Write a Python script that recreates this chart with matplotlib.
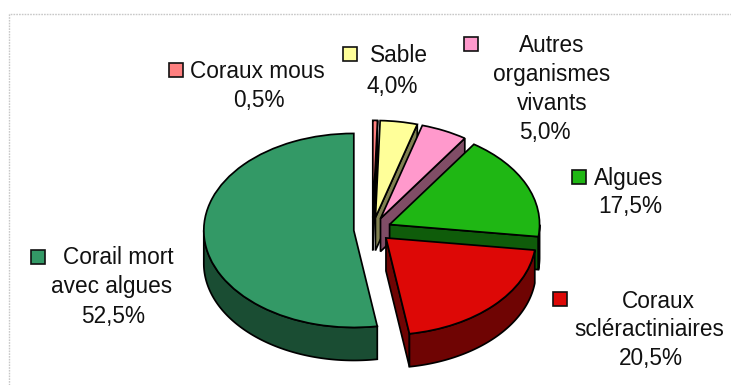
import numpy as np
import matplotlib
matplotlib.use('Agg')
import matplotlib.pyplot as plt
from matplotlib.patches import Rectangle

plt.rcParams['font.family'] = ['Liberation Sans', 'DejaVu Sans']

# valeurs
categories = ["Coraux mous", "Sable", "Autres organismes vivants", "Algues",
              "Coraux scléractiniaires", "Corail mort avec algues"]
values = [0.5, 4.0, 5.0, 17.5, 20.5, 52.5]
top_colors = ['#FF8080', '#FFFF99', '#FF99CC', '#1FB714', '#DD0806', '#339966']
side_colors = ['#804040', '#808050', '#804D66', '#0F5C0A', '#6F0403', '#1A4D33']

W, H = 731, 385
CX, CY = 372.5, 229.5   # centre du camembert, pixels
RX, RY = 150, 97        # rayons de l'ellipse, pixels
DEPTH = 33 / RY
EDGE = '#000000'
LW = 1.25

fig = plt.figure(figsize=(W / 100, H / 100), dpi=100)
ax = fig.add_axes([0, 0, 1, 1])

wedges, _ = ax.pie(values, explode=[0.125] * len(values), colors=top_colors,
                   startangle=90, counterclock=False, radius=1,
                   wedgeprops=dict(edgecolor=EDGE, linewidth=LW))
# ellipse: une unite = RX pixels en x, RY pixels en y
ax.set_aspect('auto')
ax.set_xlim(-CX / RX, (W - CX) / RX)
ax.set_ylim((CY - H) / RY, CY / RY)
ax.set_axis_off()

# ordre de dessin: de l'arriere vers l'avant
order = [0, 1, 2, 3, 5, 4]
z = 1
for i in order:
    w = wedges[i]
    x0, y0 = w.center
    t = np.radians(np.linspace(w.theta1, w.theta2, 400))
    xs = x0 + w.r * np.cos(t)
    ys = y0 + w.r * np.sin(t)
    # parois radiales, seulement celles tournees vers le bas
    th1, th2 = np.radians(w.theta1), np.radians(w.theta2)
    if np.sin(th1 - np.pi / 2) < 0:
        ax.fill([x0, xs[0], xs[0], x0], [y0, ys[0], ys[0] - DEPTH, y0 - DEPTH],
                facecolor=side_colors[i], edgecolor=EDGE, linewidth=LW, zorder=z)
    if np.sin(th2 + np.pi / 2) < 0:
        ax.fill([x0, xs[-1], xs[-1], x0], [y0, ys[-1], ys[-1] - DEPTH, y0 - DEPTH],
                facecolor=side_colors[i], edgecolor=EDGE, linewidth=LW, zorder=z)
    # paroi exterieure, partie basse de l'arc
    low = np.sin(t) <= 0
    if low.any():
        ax.fill(np.r_[xs[low], xs[low][::-1]], np.r_[ys[low], ys[low][::-1] - DEPTH],
                facecolor=side_colors[i], edgecolor=EDGE, linewidth=LW, zorder=z)
    w.set_zorder(z + 1)
    z += 2

# calque en pixels pour les textes et la legende
ov = fig.add_axes([0, 0, 1, 1], facecolor='none')
ov.set_xlim(0, W)
ov.set_ylim(H, 0)
ov.set_axis_off()

ov.plot([8.5, 8.5, W], [H, 13.5, 13.5], color='#c8c8c8', lw=1, ls=(0, (1.2, 0.8)))

pct = [f"{v:.1f}%".replace('.', ',') for v in values]
squares = [(169, 63), (343, 47), (464, 37), (572, 170), (553, 292), (31, 250)]
label_lines = [
    [("Coraux mous", 257.5, 72), (pct[0], 259, 101)],
    [("Sable", 399, 56), (pct[1], 392, 86)],
    [("Autres", 552, 46), ("organismes", 552, 75), ("vivants", 552, 104), (pct[2], 545, 133)],
    [("Algues", 629, 178), (pct[3], 630, 206)],
    [("Coraux", 658, 301), ("scléractiniaires", 649.5, 330), (pct[4], 651, 359)],
    [("Corail mort", 118, 258), ("avec algues", 111.5, 287), (pct[5], 113, 316)],
]
for (sx, sy), col, lines in zip(squares, top_colors, label_lines):
    ov.add_patch(Rectangle((sx, sy), 14, 14, facecolor=col, edgecolor='#111111', lw=1.2))
    for txt, x, y in lines:
        ov.text(x, y, txt, ha='center', va='center', fontsize=16.3, color='#111111')

fig.savefig('out.png', dpi=100)
